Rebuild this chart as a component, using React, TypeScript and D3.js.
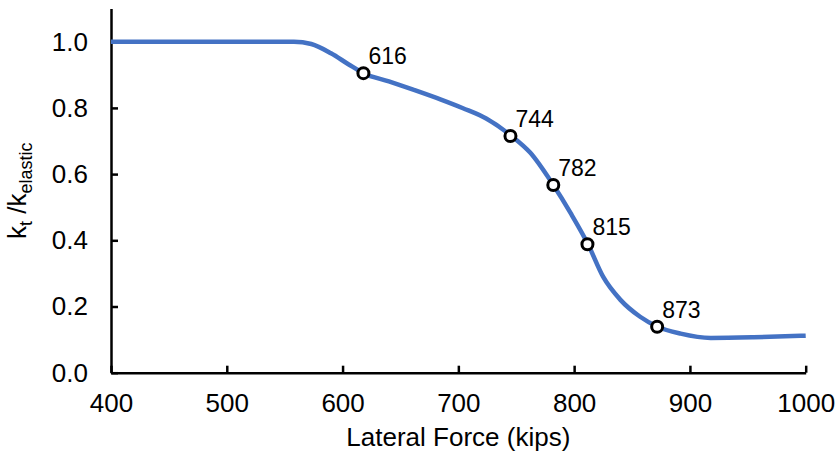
import React, { useEffect, useRef } from "react";
import * as d3 from "d3";

// Curve: lateral force (kips) vs. stiffness ratio kt/kelastic
const forceValues = [400, 450, 500, 558, 573, 590, 605, 618, 640, 661, 685, 704, 724, 746, 762, 782, 797, 812, 825, 840, 857, 872, 892, 918, 955, 1000];
const ratioValues = [1.0, 1.0, 1.0, 1.0, 0.993, 0.965, 0.932, 0.905, 0.88, 0.855, 0.825, 0.799, 0.768, 0.715, 0.665, 0.567, 0.482, 0.388, 0.29, 0.22, 0.169, 0.139, 0.118, 0.105, 0.107, 0.112];

// Highlighted points
const markerForce = [618, 745, 782, 811.5, 871.7];
const markerRatio = [0.905, 0.715, 0.567, 0.388, 0.139];
const markerLabels = ["616", "744", "782", "815", "873"];

// Axis ticks
const xTicks = [400, 500, 600, 700, 800, 900, 1000];
const yTicks = [0, 0.2, 0.4, 0.6, 0.8, 1.0];

const W = 837;
const H = 457;
const FONT = "Arial, 'Liberation Sans', sans-serif";

export default function App() {
  const xAxisRef = useRef<SVGGElement>(null);
  const yAxisRef = useRef<SVGGElement>(null);

  const x = d3.scaleLinear().domain([400, 1000]).range([111, 805.7]);
  const y = d3.scaleLinear().domain([0, 1.1]).range([372.7, 8.6]);

  useEffect(() => {
    if (xAxisRef.current) {
      const g = d3.select(xAxisRef.current);
      g.call(
        d3.axisBottom(x).tickValues(xTicks).tickFormat(d3.format("d")).tickSizeInner(-7).tickSizeOuter(0).tickPadding(21)
      );
      g.selectAll("path, line").attr("stroke", "#000").attr("stroke-width", 2.5);
      g.selectAll("text").attr("font-size", 26).attr("font-family", FONT).attr("fill", "#000");
    }
    if (yAxisRef.current) {
      const g = d3.select(yAxisRef.current);
      g.call(
        d3.axisLeft(y).tickValues(yTicks).tickFormat(d3.format(".1f")).tickSizeInner(-7).tickSizeOuter(0).tickPadding(23)
      );
      g.selectAll("path, line").attr("stroke", "#000").attr("stroke-width", 2.5);
      g.selectAll("text").attr("font-size", 26).attr("font-family", FONT).attr("fill", "#000");
    }
  }, []);

  const pts: [number, number][] = forceValues.map((f, i) => [f, ratioValues[i]]);
  const line = d3
    .line<[number, number]>()
    .x((d) => x(d[0]))
    .y((d) => y(d[1]))
    .curve(d3.curveMonotoneX);

  return (
    <svg
      width={W}
      height={H}
      style={{ position: "absolute", left: 0, top: 0, background: "#fff" }}
      fontFamily={FONT}
    >
      <g ref={xAxisRef} transform={`translate(0,${y(0)})`} />
      <g ref={yAxisRef} transform={`translate(${x(400)},0)`} />
      <path d={line(pts) || ""} fill="none" stroke="#4472C4" strokeWidth={4.5} strokeLinejoin="round" />
      {markerForce.map((f, i) => (
        <g key={i}>
          <circle cx={x(f)} cy={y(markerRatio[i])} r={5.5} fill="#fff" stroke="#000" strokeWidth={3} />
          <text x={x(f) + 5} y={y(markerRatio[i]) - 9} fontSize={23} fill="#000">
            {markerLabels[i]}
          </text>
        </g>
      ))}
      <text x={(x(400) + x(1000)) / 2} y={446} textAnchor="middle" fontSize={26} fill="#000">
        Lateral Force (kips)
      </text>
      <text transform={`translate(26,${(y(0) + y(1.1)) / 2}) rotate(-90)`} textAnchor="middle" fontSize={26} fill="#000">
        k
        <tspan fontSize={18} dy={6}>t</tspan>
        <tspan dy={-6}> /k</tspan>
        <tspan fontSize={18} dy={6}>elastic</tspan>
      </text>
    </svg>
  );
}
